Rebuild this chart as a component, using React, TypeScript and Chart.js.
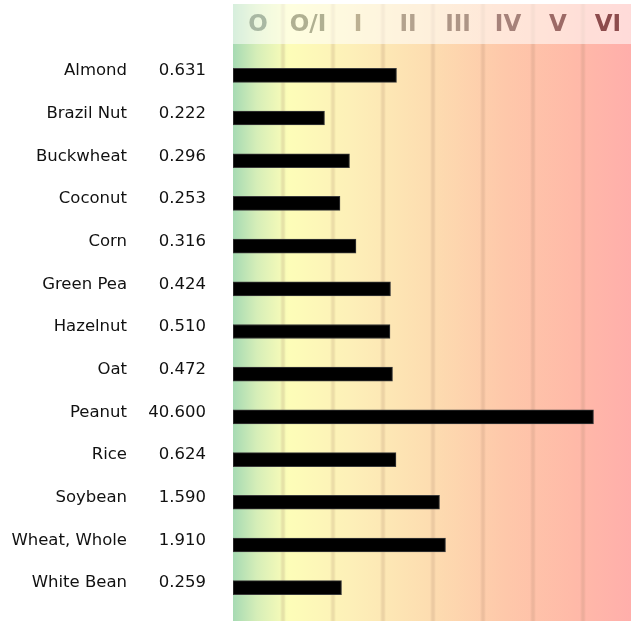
import React, { useEffect, useRef } from "react";
import { Chart, registerables } from "chart.js";

Chart.register(...registerables);

const foods = [
  "Almond", "Brazil Nut", "Buckwheat", "Coconut", "Corn", "Green Pea", "Hazelnut",
  "Oat", "Peanut", "Rice", "Soybean", "Wheat, Whole", "White Bean",
];
const valueLabels = [
  "0.631", "0.222", "0.296", "0.253", "0.316", "0.424", "0.510",
  "0.472", "40.600", "0.624", "1.590", "1.910", "0.259",
];
// bar length, in class units (0 = start of class O, 1 class per unit)
const barLengths = [3.27, 1.83, 2.33, 2.14, 2.46, 3.15, 3.14, 3.19, 7.21, 3.26, 4.13, 4.25, 2.17];
const classLabels = ["O", "O/I", "I", "II", "III", "IV", "V", "VI"];
const classColors = ["#a9b8a3", "#b0b092", "#bcb092", "#b3a28e", "#ad9586", "#a6827a", "#9c6a66", "#8d4c4d"];

const bgPlugin = {
  id: "bgPlugin",
  beforeDraw(chart: any) {
    const { ctx, chartArea, scales, width, height } = chart;
    const x = scales.x;
    const left = chartArea.left;
    const right = chartArea.right;
    ctx.save();
    ctx.fillStyle = "#ffffff";
    ctx.fillRect(0, 0, width, height);
    const top = 4;
    const g = ctx.createLinearGradient(left, 0, x.getPixelForValue(8), 0);
    g.addColorStop(0, "#a6dab3");
    g.addColorStop(0.06, "#d6eeb8");
    g.addColorStop(0.14, "#fdfdb8");
    g.addColorStop(0.3, "#fdefb8");
    g.addColorStop(0.5, "#fddcb0");
    g.addColorStop(0.68, "#fec8aa");
    g.addColorStop(0.85, "#ffbaa8");
    g.addColorStop(1, "#ffaeab");
    ctx.fillStyle = g;
    ctx.fillRect(left, top, right - left, height - top);
    // grid lines at class boundaries
    for (let i = 1; i < classLabels.length; i++) {
      const px = Math.round(x.getPixelForValue(i));
      ctx.fillStyle = "rgba(165,130,105,0.08)";
      ctx.fillRect(px - 2.5, top, 5, height - top);
      ctx.fillStyle = "rgba(165,130,105,0.12)";
      ctx.fillRect(px - 1.5, top, 3, height - top);
    }
    // header band
    const hb = 44;
    ctx.fillStyle = "rgba(255,255,255,0.55)";
    ctx.fillRect(left, top, right - left, hb - top);
    ctx.font = "bold 23px 'DejaVu Sans'";
    ctx.textAlign = "center";
    ctx.textBaseline = "middle";
    classLabels.forEach((lab, i) => {
      ctx.fillStyle = classColors[i];
      ctx.fillText(lab, x.getPixelForValue(i + 0.5), 25);
    });
    ctx.restore();
  },
  afterDraw(chart: any) {
    const { ctx, scales } = chart;
    const y = scales.y;
    ctx.save();
    ctx.font = "16.5px 'DejaVu Sans'";
    ctx.fillStyle = "#111111";
    ctx.textBaseline = "middle";
    foods.forEach((f, i) => {
      const py = y.getPixelForValue(i) - 4.5;
      ctx.textAlign = "right";
      ctx.fillText(f, 127, py);
      ctx.fillText(valueLabels[i], 206, py);
    });
    ctx.restore();
  },
};

export default function App() {
  const ref = useRef<HTMLCanvasElement>(null);
  useEffect(() => {
    document.body.style.margin = "0";
    const chart = new Chart(ref.current!, {
      type: "bar",
      data: {
        labels: foods,
        datasets: [
          {
            data: barLengths,
            backgroundColor: "#000000",
            borderColor: "#3a3a3a",
            borderWidth: 1,
            barThickness: 14,
            borderSkipped: false,
          },
        ],
      },
      options: {
        indexAxis: "y",
        responsive: false,
        animation: false,
        devicePixelRatio: 1,
        layout: { padding: { left: 233, right: 0, top: 54, bottom: 12 } },
        plugins: { legend: { display: false }, tooltip: { enabled: false } },
        scales: {
          x: { type: "linear", min: 0, max: 7.96, display: false },
          y: { type: "category", display: false, offset: true },
        },
      },
      plugins: [bgPlugin],
    });
    return () => chart.destroy();
  }, []);
  return <canvas ref={ref} width={631} height={621} style={{ display: "block" }} />;
}
